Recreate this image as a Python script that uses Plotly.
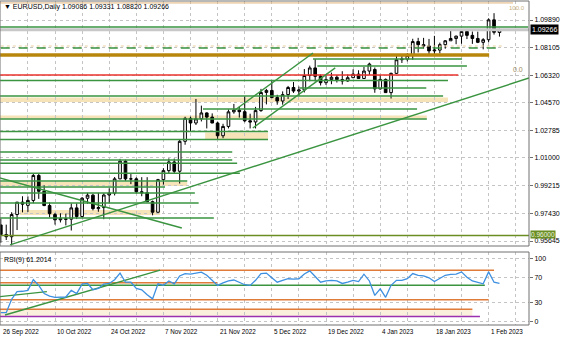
import plotly.graph_objects as go

# ---------------- data ----------------
dates = ["2022-09-26","2022-09-27","2022-09-28","2022-09-29","2022-09-30",
         "2022-10-03","2022-10-04","2022-10-05","2022-10-06","2022-10-07",
         "2022-10-10","2022-10-11","2022-10-12","2022-10-13","2022-10-14",
         "2022-10-17","2022-10-18","2022-10-19","2022-10-20","2022-10-21",
         "2022-10-24","2022-10-25","2022-10-26","2022-10-27","2022-10-28",
         "2022-10-31","2022-11-01","2022-11-02","2022-11-03","2022-11-04",
         "2022-11-07","2022-11-08","2022-11-09","2022-11-10","2022-11-11",
         "2022-11-14","2022-11-15","2022-11-16","2022-11-17","2022-11-18",
         "2022-11-21","2022-11-22","2022-11-23","2022-11-24","2022-11-25",
         "2022-11-28","2022-11-29","2022-11-30","2022-12-01","2022-12-02",
         "2022-12-05","2022-12-06","2022-12-07","2022-12-08","2022-12-09",
         "2022-12-12","2022-12-13","2022-12-14","2022-12-15","2022-12-16",
         "2022-12-19","2022-12-20","2022-12-21","2022-12-22","2022-12-23",
         "2022-12-27","2022-12-28","2022-12-29","2022-12-30","2023-01-03",
         "2023-01-04","2023-01-05","2023-01-06","2023-01-09","2023-01-10",
         "2023-01-11","2023-01-12","2023-01-13","2023-01-16","2023-01-17",
         "2023-01-18","2023-01-19","2023-01-20","2023-01-23","2023-01-24",
         "2023-01-25","2023-01-26","2023-01-27","2023-01-30","2023-01-31",
         "2023-02-01","2023-02-02","2023-02-03"]

opens = [0.9668,0.9606,0.9592,0.9735,0.9815,0.9794,0.9826,0.9987,0.9885,0.9793,
         0.9735,0.9701,0.9707,0.9705,0.9778,0.9722,0.9840,0.9860,0.9773,0.9780,
         0.9861,0.9873,0.9965,1.0079,0.9965,0.9965,0.9882,0.9875,0.9818,0.9750,
         0.9960,1.0018,1.0074,1.0014,1.0207,1.0355,1.0325,1.0352,1.0390,1.0363,
         1.0325,1.0243,1.0303,1.0397,1.0408,1.0398,1.0339,1.0332,1.0405,1.0522,
         1.0535,1.0489,1.0467,1.0508,1.0554,1.0531,1.0538,1.0631,1.0680,1.0626,
         1.0585,1.0605,1.0620,1.0605,1.0596,1.0617,1.0640,1.0612,1.0660,1.0670,
         1.0545,1.0606,1.0521,1.0645,1.0733,1.0737,1.0760,1.0850,1.0830,1.0822,
         1.0790,1.0795,1.0830,1.0855,1.0870,1.0885,1.0915,1.0890,1.0870,1.0845,
         1.0862,1.0990,1.09086]
highs = [0.9709,0.9670,0.9750,0.9815,0.9853,0.9852,0.9999,0.9999,0.9923,0.9813,
         0.9746,0.9743,0.9741,0.9807,0.9807,0.9848,0.9875,0.9869,0.9875,0.9872,
         0.9904,0.9977,1.0094,1.0089,0.9996,0.9975,0.9976,0.9976,0.9825,0.9965,
         1.0034,1.0097,1.0096,1.0222,1.0365,1.0366,1.0480,1.0437,1.0394,1.0387,
         1.0333,1.0320,1.0413,1.0448,1.0431,1.0497,1.0385,1.0429,1.0545,1.0545,
         1.0595,1.0507,1.0529,1.0564,1.0589,1.0560,1.0673,1.0695,1.0736,1.0638,
         1.0630,1.0650,1.0633,1.0659,1.0638,1.0671,1.0665,1.0687,1.0714,1.0683,
         1.0634,1.0612,1.0650,1.0760,1.0761,1.0776,1.0868,1.0874,1.0874,1.0867,
         1.0887,1.0843,1.0860,1.0927,1.0888,1.0929,1.0930,1.0915,1.0914,1.0872,
         1.1000,1.1033,1.09331]
lows = [0.9553,0.9571,0.9536,0.9635,0.9749,0.9752,0.9808,0.9836,0.9789,0.9717,
        0.9670,0.9684,0.9665,0.9632,0.9706,0.9716,0.9805,0.9762,0.9753,0.9705,
        0.9807,0.9858,0.9963,0.9952,0.9931,0.9871,0.9853,0.9815,0.9730,0.9746,
        0.9928,0.9997,1.0000,0.9935,1.0185,1.0270,1.0312,1.0335,1.0290,1.0324,
        1.0223,1.0227,1.0290,1.0385,1.0360,1.0330,1.0290,1.0290,1.0397,1.0445,
        1.0485,1.0443,1.0443,1.0480,1.0519,1.0500,1.0522,1.0594,1.0593,1.0567,
        1.0570,1.0575,1.0586,1.0573,1.0591,1.0621,1.0610,1.0610,1.0635,1.0520,
        1.0540,1.0520,1.0483,1.0641,1.0712,1.0722,1.0733,1.0780,1.0805,1.0768,
        1.0765,1.0773,1.0804,1.0855,1.0833,1.0836,1.0866,1.0835,1.0840,1.0800,
        1.0845,1.0895,1.08820]
closes = [0.9606,0.9592,0.9735,0.9815,0.9802,0.9826,0.9987,0.9885,0.9793,0.9741,
          0.9701,0.9707,0.9705,0.9778,0.9722,0.9840,0.9860,0.9773,0.9780,0.9861,
          0.9873,0.9965,1.0079,0.9965,0.9965,0.9882,0.9875,0.9818,0.9750,0.9960,
          1.0018,1.0074,1.0014,1.0207,1.0355,1.0325,1.0352,1.0390,1.0363,1.0325,
          1.0243,1.0303,1.0397,1.0408,1.0398,1.0339,1.0332,1.0405,1.0522,1.0535,
          1.0489,1.0467,1.0508,1.0554,1.0531,1.0538,1.0631,1.0680,1.0626,1.0585,
          1.0605,1.0620,1.0605,1.0596,1.0617,1.0640,1.0612,1.0660,1.0705,1.0545,
          1.0606,1.0521,1.0645,1.0733,1.0737,1.0760,1.0850,1.0830,1.0822,1.0790,
          1.0795,1.0830,1.0855,1.0870,1.0885,1.0915,1.0890,1.0870,1.0845,1.0862,
          1.0990,1.0910,1.09266]

rsi9 = [14.6,14.6,36,48,48.6,50,67,58,45,41,
        39,39,39.5,50,45,60,61,51,53,60,
        61,67,77.5,63,63,53,51,43,36.5,60.5,
        58,65,60.5,73,76.5,76,77,79,74,66,
        58,62,65,66.5,63,59,58,66,76.5,77.5,
        70,63,66,68.5,68,68.5,76,81,72,63,
        65,66,65,61,63,66,64,75.7,65,42,
        52.5,39,58,66,66,68.7,76.8,74,73,70,
        64,68.7,74,75.5,76,79.4,71,65,63,60.5,
        79.4,63,61.2]

price_ticks = [1.09890, 1.08105, 1.06320, 1.04570, 1.02785, 1.01000, 0.99215, 0.97430, 0.95645]
rsi_ticks = [0, 30, 70, 100]
date_labels = ["26 Sep 2022","10 Oct 2022","24 Oct 2022","7 Nov 2022","21 Nov 2022",
               "5 Dec 2022","19 Dec 2022","4 Jan 2023","18 Jan 2023","1 Feb 2023"]
date_label_at = ["2022-09-26","2022-10-10","2022-10-24","2022-11-07","2022-11-21",
                 "2022-12-05","2022-12-19","2023-01-04","2023-01-18","2023-02-01"]

bid_price = 1.09266
round_level = 0.96000
fib_zero = 1.06320
fib_hundred = 1.10990

# horizontal support/resistance levels: price, from bar, to bar
green_levels = [1.09439, 1.07376, 1.06925, 1.05990, 1.05507, 1.04991, 1.04153, 1.03508,
                1.02703, 1.02187, 1.01381, 1.00866, 1.00653, 1.00008, 0.99512, 0.99125,
                0.98738, 0.98094, 0.97127]
green_from = [-0.2, 57.6, 58.4, -0.2, 55.2, -0.2, 37.3, -0.2,
              -0.2, -0.2, -0.2, -0.2, -0.2, -0.2, -0.2, -0.2,
              -0.2, -0.2, -0.2]
green_to = [97.3, 85.1, 86.0, 82.5, 78.5, 81.6, 76.8, 78.6,
            49.3, 49.3, 42.7, 42.7, 43.6, 44.1, 34.4, 30.3,
            35.8, 36.5, 39.3]
dashed_level = [1.08085, 0.0, 92.5]
tan_dotted_level = [1.08214, 0.0, 92.5]
brown_level = [1.07634, -0.2, 90.1]
red_level = [1.06345, -0.2, 84.4]

# shaded zones: low price, high price, from bar, to bar
zone_low = [1.04604, 1.03541, 1.02219, 0.99190, 0.97320]
zone_high = [1.04894, 1.03734, 1.02638, 0.99448, 0.97643]
zone_from = [-0.2, -0.2, 37.7, -0.2, 3.5]
zone_to = [82.5, 78.6, 49.3, 34.4, 29.4]

# trend lines: (bar, price) -> (bar, price)
trend_x0 = [1.7, -0.2, 43.2, 46.5]
trend_p0 = [0.9539, 0.9971, 1.0409, 1.0293]
trend_x1 = [97.45, 33.4, 57.6, 61.7]
trend_p1 = [1.0615, 0.9648, 1.0776, 1.0680]

# RSI levels: value, from bar, to bar
rsi_orange = [82, 62, 35, 20]
rsi_orange_to = [91.0, 39.9, 90.0, 87.0]
rsi_green = [58, 89.3]
rsi_purple = [8.7, 88.4]
rsi_trend_x0 = [0.77, -0.2]
rsi_trend_v0 = [10.9, 40]
rsi_trend_x1 = [29.4, 8.5]
rsi_trend_v1 = [82.2, 48]

# ---------------- figure ----------------
x = list(range(len(dates)))
GREEN = "#3a9440"
FONT = "Liberation Sans"

fig = go.Figure()

def seg_trace(xs0, ys0, xs1, ys1, color, width, dash="solid", yaxis="y", xaxis="x"):
    xx, yy = [], []
    for a, b, c, d in zip(xs0, ys0, xs1, ys1):
        xx += [a, c, None]
        yy += [b, d, None]
    return go.Scatter(x=xx, y=yy, mode="lines", line=dict(color=color, width=width, dash=dash),
                      hoverinfo="skip", showlegend=False, xaxis=xaxis, yaxis=yaxis)

shapes = []
for lo, hi, a, b in zip(zone_low, zone_high, zone_from, zone_to):
    shapes.append(dict(type="rect", xref="x", yref="y", x0=a, x1=b, y0=lo, y1=hi,
                       fillcolor="#f6e3b8", line=dict(width=0), layer="below"))
shapes.append(dict(type="rect", xref="x2", yref="y2", x0=-0.2, x1=rsi_orange_to[3],
                   y0=rsi_purple[0], y1=rsi_orange[3], fillcolor="#fbf0dc",
                   line=dict(width=0), layer="below"))

fig.add_trace(seg_trace([-0.2], [fib_hundred], [94.5], [fib_hundred], "#e2b57a", 1))
fig.add_trace(seg_trace([-0.2], [bid_price], [97.5], [bid_price], "#c8c8c8", 3))
fig.add_trace(seg_trace([tan_dotted_level[1]], [tan_dotted_level[0]], [tan_dotted_level[2]],
                        [tan_dotted_level[0]], "#e8cfa0", 1, "dot"))
fig.add_trace(seg_trace([dashed_level[1]], [dashed_level[0]], [dashed_level[2]],
                        [dashed_level[0]], GREEN, 1.3, "dash"))
fig.add_trace(seg_trace([brown_level[1]], [brown_level[0]], [brown_level[2]],
                        [brown_level[0]], "#b8860b", 3.5))
fig.add_trace(seg_trace([red_level[1]], [red_level[0]], [red_level[2]],
                        [red_level[0]], "#e8322e", 1.5))
fig.add_trace(seg_trace(green_from, green_levels, green_to, green_levels, GREEN, 1.4))
fig.add_trace(seg_trace([-0.2], [round_level], [97.5], [round_level], "#6b8e23", 1.6))
fig.add_trace(seg_trace(trend_x0, trend_p0, trend_x1, trend_p1, GREEN, 1.4))

fig.add_trace(go.Candlestick(
    x=x, open=opens, high=highs, low=lows, close=closes,
    increasing=dict(line=dict(color="#000000", width=1), fillcolor="#ffffff"),
    decreasing=dict(line=dict(color="#000000", width=1), fillcolor="#000000"),
    whiskerwidth=0, showlegend=False, hoverinfo="skip", xaxis="x", yaxis="y"))

fig.add_trace(seg_trace([-0.2] * 4, rsi_orange, rsi_orange_to, rsi_orange, "#e07b39", 1.5,
                        xaxis="x2", yaxis="y2"))
fig.add_trace(seg_trace([-0.2], [rsi_green[0]], [rsi_green[1]], [rsi_green[0]], GREEN, 1.5,
                        xaxis="x2", yaxis="y2"))
fig.add_trace(seg_trace([-0.2], [rsi_purple[0]], [rsi_purple[1]], [rsi_purple[0]], "#9b30b0", 1.5,
                        xaxis="x2", yaxis="y2"))
fig.add_trace(seg_trace(rsi_trend_x0, rsi_trend_v0, rsi_trend_x1, rsi_trend_v1, GREEN, 1.4,
                        xaxis="x2", yaxis="y2"))
fig.add_trace(go.Scatter(x=x, y=rsi9, mode="lines", line=dict(color="#3d8fe0", width=1.3),
                         hoverinfo="skip", showlegend=False, xaxis="x2", yaxis="y2"))

for yr in ["y domain", "y2 domain"]:
    shapes.append(dict(type="rect", xref="paper", yref=yr, x0=0, x1=1, y0=0, y1=1,
                       line=dict(color="#707070", width=1), fillcolor="rgba(0,0,0,0)"))

annotations = []
annotations.append(dict(xref="paper", yref="paper", x=0, y=1, xanchor="left", yanchor="top",
                        xshift=2, yshift=0, showarrow=False,
                        text="▼ EURUSD,Daily 1.09086 1.09331 1.08820 1.09266",
                        font=dict(family=FONT, size=7, color="#000000")))
annotations.append(dict(xref="paper", yref="y2 domain", x=0, y=1, xanchor="left", yanchor="top",
                        xshift=2, yshift=-2, showarrow=False, text="RSI(9) 61.2014",
                        font=dict(family=FONT, size=7, color="#000000")))
annotations.append(dict(xref="paper", yref="y", x=1, y=bid_price, xanchor="left", yanchor="middle",
                        xshift=1, showarrow=False, text="%.5f" % bid_price, bgcolor="#000000",
                        borderpad=1, font=dict(family=FONT, size=7, color="#ffffff")))
annotations.append(dict(xref="paper", yref="y", x=1, y=round_level, xanchor="left", yanchor="middle",
                        xshift=1, yshift=1, showarrow=False, text="%.5f" % round_level, bgcolor="#6b8e23",
                        borderpad=0, font=dict(family=FONT, size=6.5, color="#eef4e0")))
annotations.append(dict(xref="paper", yref="y", x=1, y=fib_zero, xanchor="right", yanchor="bottom",
                        xshift=-4, showarrow=False, text="0.0",
                        font=dict(family=FONT, size=7, color="#a08a60")))
annotations.append(dict(xref="paper", yref="y", x=1, y=fib_hundred, xanchor="right", yanchor="top",
                        xshift=-2, yshift=0, showarrow=False, text="100.0",
                        font=dict(family=FONT, size=6, color="#c8b080")))
for lab, d in zip(date_labels, date_label_at):
    annotations.append(dict(xref="x2", yref="paper", x=dates.index(d), y=0, xanchor="left",
                            yanchor="top", yshift=-1, showarrow=False, text=lab,
                            font=dict(family=FONT, size=6.3, color="#000000")))

grid = dict(showgrid=True, gridcolor="#c4c4c4", griddash="dot", gridwidth=1, zeroline=False)

fig.update_layout(
    width=564, height=338,
    margin=dict(l=0, r=35, t=1, b=13),
    paper_bgcolor="#ffffff", plot_bgcolor="#ffffff",
    showlegend=False,
    shapes=shapes, annotations=annotations,
    xaxis=dict(domain=[0, 1], range=[-0.15, 97.45], tickvals=list(range(0, 98, 5)),
               showticklabels=False, ticks="", anchor="y", rangeslider=dict(visible=False), **grid),
    xaxis2=dict(domain=[0, 1], range=[-0.15, 97.45], tickvals=list(range(0, 98, 5)),
                showticklabels=False, ticks="", anchor="y2", matches="x", **grid),
    yaxis=dict(domain=[0.2438, 1], range=[0.95322, 1.11115], side="right", anchor="x",
               tickvals=price_ticks, ticktext=["%.5f" % v for v in price_ticks],
               ticks="outside", ticklen=3, tickcolor="#707070",
               tickfont=dict(family=FONT, size=7, color="#000000"), **grid),
    yaxis2=dict(domain=[0, 0.2253], range=[-5, 111], side="right", anchor="x2",
                tickvals=rsi_ticks, ticks="outside", ticklen=3, tickcolor="#707070",
                tickfont=dict(family=FONT, size=7, color="#000000"), **grid),
)

fig.write_html("out.html")
